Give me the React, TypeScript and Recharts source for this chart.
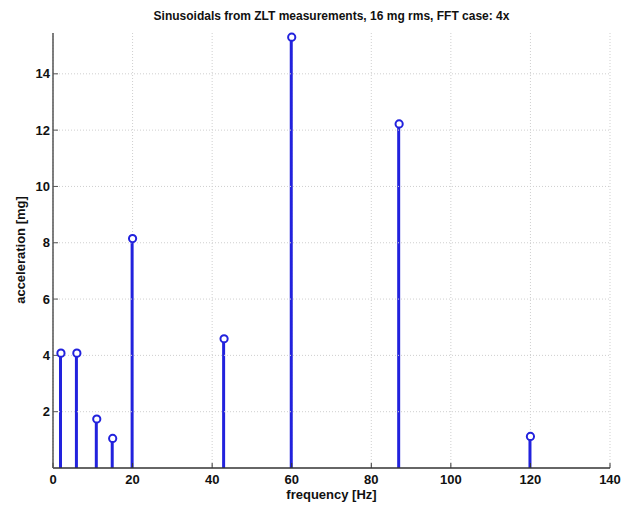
import {
  ComposedChart,
  Bar,
  Scatter,
  XAxis,
  YAxis,
  CartesianGrid,
  ReferenceLine,
} from "recharts";

const frequencies = [2, 6, 11, 15, 20, 43, 60, 87, 120];
const accelerations = [4.08, 4.08, 1.74, 1.05, 8.15, 4.59, 15.3, 12.22, 1.12];
const xTicks = [0, 20, 40, 60, 80, 100, 120, 140];
const yTicks = [2, 4, 6, 8, 10, 12, 14];

const STEM = "#2222dd";
const GRID = "#cfcfcf";
const FONT = "Arial, 'Liberation Sans', Helvetica, sans-serif";

const data = frequencies.map((f, i) => ({ f, a: accelerations[i] }));

const StemHead = (props: any) => {
  const { cx, cy } = props;
  if (cx == null || cy == null) return null;
  return <circle cx={cx} cy={cy} r={3.6} fill="#ffffff" stroke={STEM} strokeWidth={2} />;
};

export default function App() {
  const tick = { fill: "#111", fontSize: 13, fontWeight: 700, fontFamily: FONT };
  return (
    <div
      style={{
        position: "absolute",
        left: 0,
        top: 0,
        width: 632,
        height: 509,
        background: "#fff",
        fontFamily: FONT,
      }}
    >
      <div
        style={{
          position: "absolute",
          left: 53,
          width: 557,
          top: 9,
          textAlign: "center",
          fontSize: 12,
          fontWeight: 700,
          color: "#111",
        }}
      >
        Sinusoidals from ZLT measurements, 16 mg rms, FFT case: 4x
      </div>
      <ComposedChart
        width={632}
        height={509}
        data={data}
        margin={{ top: 33, right: 22, left: 23, bottom: 11 }}
      >
        {/* vertical grid only; horizontal ones drawn at the y ticks below */}
        <CartesianGrid stroke={GRID} strokeDasharray="1 2" horizontal={false} />
        <XAxis
          dataKey="f"
          type="number"
          domain={[0, 140]}
          ticks={xTicks}
          interval={0}
          height={30}
          tick={tick}
          tickSize={-5}
          tickMargin={12}
          axisLine={{ stroke: "#333", strokeWidth: 1.5 }}
          tickLine={{ stroke: "#333" }}
        />
        <YAxis
          type="number"
          domain={[0, 15.45]}
          ticks={yTicks}
          interval={0}
          width={30}
          tick={tick}
          tickSize={-5}
          tickMargin={8}
          axisLine={{ stroke: "#555", strokeWidth: 1.5 }}
          tickLine={{ stroke: "#555" }}
        />
        {yTicks.map((t) => (
          <ReferenceLine key={t} y={t} stroke={GRID} strokeDasharray="1 2" />
        ))}
        <Bar dataKey="a" barSize={3} fill={STEM} isAnimationActive={false} />
        <Scatter dataKey="a" shape={<StemHead />} isAnimationActive={false} />
      </ComposedChart>
      <div
        style={{
          position: "absolute",
          left: 53,
          width: 557,
          top: 487,
          textAlign: "center",
          fontSize: 13,
          fontWeight: 700,
          color: "#111",
        }}
      >
        frequency [Hz]
      </div>
      <div
        style={{
          position: "absolute",
          left: 20,
          top: 250,
          transform: "translate(-50%, -50%) rotate(-90deg)",
          whiteSpace: "nowrap",
          fontSize: 13,
          fontWeight: 700,
          color: "#111",
        }}
      >
        acceleration [mg]
      </div>
    </div>
  );
}
